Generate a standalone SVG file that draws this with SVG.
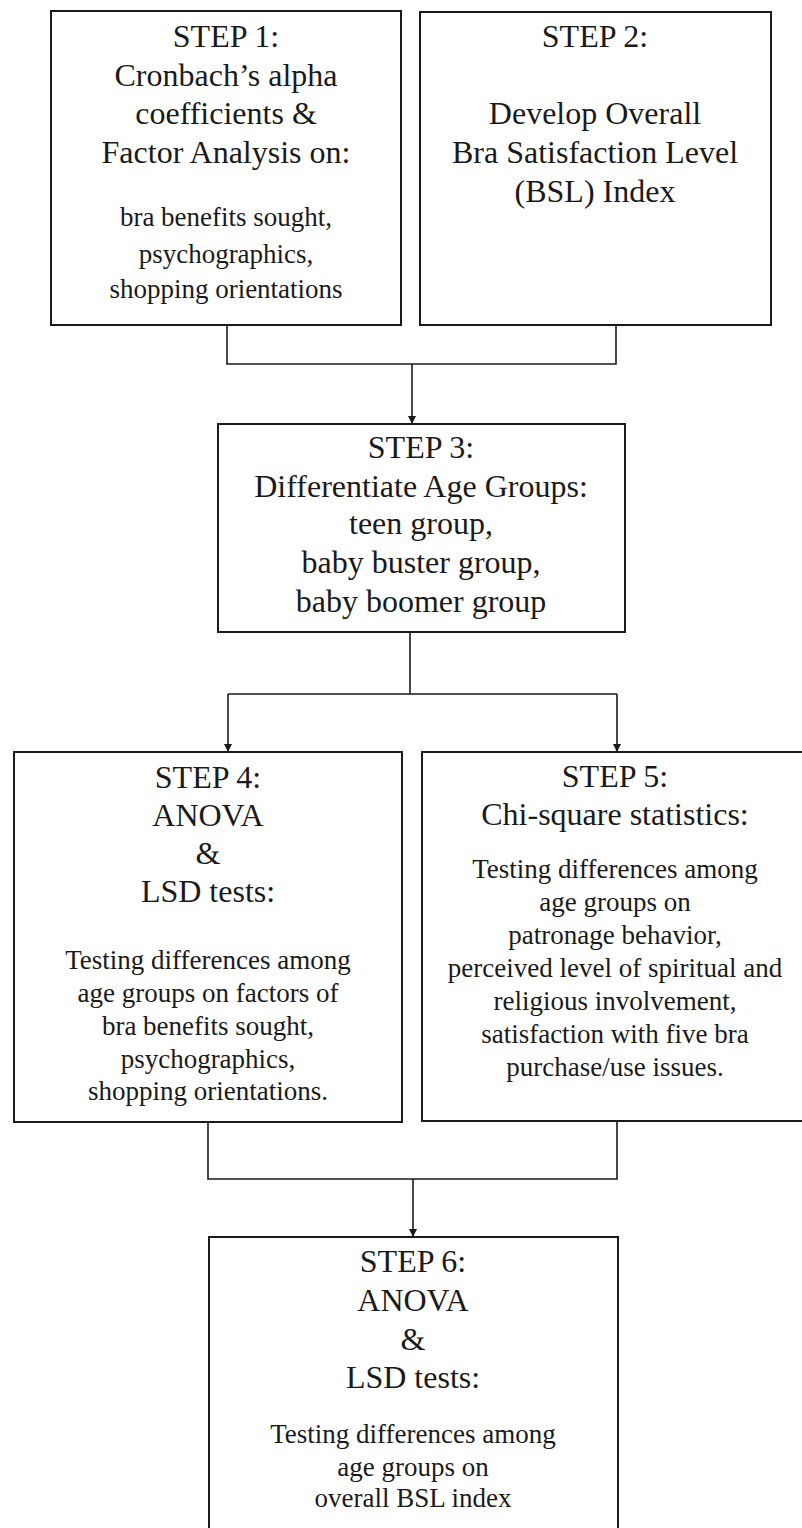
<svg xmlns="http://www.w3.org/2000/svg" width="802" height="1528" viewBox="0 0 802 1528">
<style>
.box{fill:none;stroke:#1a1a1a;stroke-width:2}
.con{fill:none;stroke:#1a1a1a;stroke-width:1.6}
text{font-family:"Liberation Serif","Times New Roman",serif;fill:#1a1a1a;text-anchor:middle}
.h{font-size:32px}
.s{font-size:27px}
</style>
<defs>
<marker id="arr" viewBox="0 0 10 10" refX="10" refY="5" markerWidth="5" markerHeight="5" orient="auto" markerUnits="strokeWidth">
<path d="M0,0 L10,5 L0,10 z" fill="#1a1a1a"/>
</marker>
</defs>
<rect width="802" height="1528" fill="#ffffff"/>
<g id="connectors">
<path class="con" d="M227,325 V364 H616 V325"/>
<path class="con" d="M412,364 V424" marker-end="url(#arr)"/>
<path class="con" d="M410,632 V694"/>
<path class="con" d="M228,694 H617"/>
<path class="con" d="M228,694 V752" marker-end="url(#arr)"/>
<path class="con" d="M617,694 V752" marker-end="url(#arr)"/>
<path class="con" d="M208,1122 V1179 H617 V1121"/>
<path class="con" d="M413,1179 V1237" marker-end="url(#arr)"/>
</g>
<g id="step1">
<rect class="box" x="51" y="11" width="350" height="314"/>
<text class="h" x="226" y="47">STEP 1:</text>
<text class="h" x="226" y="86">Cronbach’s alpha</text>
<text class="h" x="226" y="124">coefficients &amp;</text>
<text class="h" x="226" y="163">Factor Analysis on:</text>
<text class="s" x="226" y="226">bra benefits sought,</text>
<text class="s" x="226" y="263">psychographics,</text>
<text class="s" x="226" y="298">shopping orientations</text>
</g>
<g id="step2">
<rect class="box" x="420" y="12" width="351" height="313"/>
<text class="h" x="595" y="47">STEP 2:</text>
<text class="h" x="595" y="124">Develop Overall</text>
<text class="h" x="595" y="163">Bra Satisfaction Level</text>
<text class="h" x="595" y="202">(BSL) Index</text>
</g>
<g id="step3">
<rect class="box" x="218" y="424" width="407" height="208"/>
<text class="h" x="421" y="458">STEP 3:</text>
<text class="h" x="421" y="497">Differentiate Age Groups:</text>
<text class="h" x="421" y="534">teen group,</text>
<text class="h" x="421" y="573">baby buster group,</text>
<text class="h" x="421" y="612">baby boomer group</text>
</g>
<g id="step4">
<rect class="box" x="14" y="752" width="388" height="370"/>
<text class="h" x="208" y="788">STEP 4:</text>
<text class="h" x="208" y="826">ANOVA</text>
<text class="h" x="208" y="864">&amp;</text>
<text class="h" x="208" y="902">LSD tests:</text>
<text class="s" x="208" y="969">Testing differences among</text>
<text class="s" x="208" y="1002">age groups on factors of</text>
<text class="s" x="208" y="1035">bra benefits sought,</text>
<text class="s" x="208" y="1068">psychographics,</text>
<text class="s" x="208" y="1100">shopping orientations.</text>
</g>
<g id="step5">
<rect class="box" x="422" y="752" width="386" height="369"/>
<text class="h" x="615" y="787">STEP 5:</text>
<text class="h" x="615" y="825">Chi-square statistics:</text>
<text class="s" x="615" y="878">Testing differences among</text>
<text class="s" x="615" y="911">age groups on</text>
<text class="s" x="615" y="944">patronage behavior,</text>
<text class="s" x="615" y="977">perceived level of spiritual and</text>
<text class="s" x="615" y="1010">religious involvement,</text>
<text class="s" x="615" y="1043">satisfaction with five bra</text>
<text class="s" x="615" y="1076">purchase/use issues.</text>
</g>
<g id="step6">
<rect class="box" x="209" y="1237" width="409" height="300"/>
<text class="h" x="413" y="1272">STEP 6:</text>
<text class="h" x="413" y="1311">ANOVA</text>
<text class="h" x="413" y="1350">&amp;</text>
<text class="h" x="413" y="1388">LSD tests:</text>
<text class="s" x="413" y="1443">Testing differences among</text>
<text class="s" x="413" y="1476">age groups on</text>
<text class="s" x="413" y="1507">overall BSL index</text>
</g>
</svg>
